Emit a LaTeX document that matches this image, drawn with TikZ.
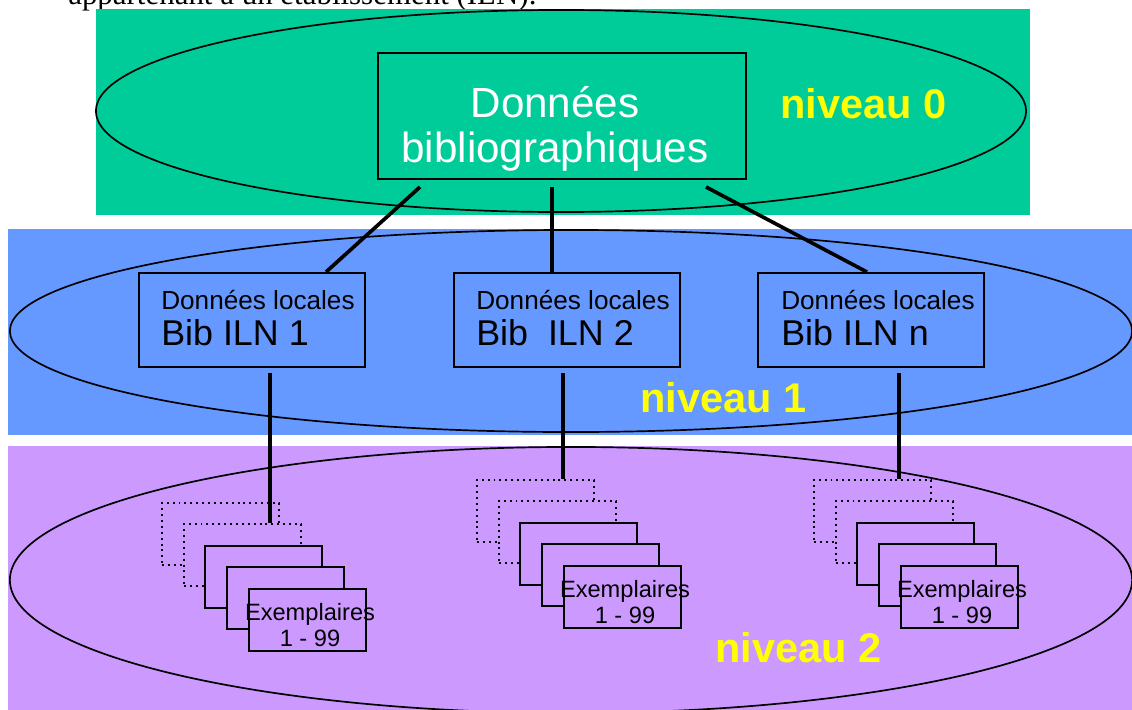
\documentclass[tikz,border=0pt]{standalone}
\usepackage{fontspec}
\setmainfont{Liberation Sans}
\newfontfamily\pagefont{Liberation Serif}
\definecolor{vert0}{HTML}{00CC99}
\definecolor{bleu1}{HTML}{6699FF}
\definecolor{mauve2}{HTML}{CC99FF}
\definecolor{jaune}{HTML}{FFFF00}
\tikzset{
  ilnbox/.style={draw, line width=1.4pt, minimum width=5.65cm, minimum height=2.35cm, inner sep=0pt},
  ilntxt/.style={anchor=west, align=left, inner sep=0pt, font=\fontsize{25.5}{25.6}\selectfont},
  exbox/.style={draw, line width=1.4pt, fill=mauve2, anchor=north west, minimum width=2.925cm, minimum height=1.55cm, inner sep=0pt},
  exdot/.style={exbox, dash pattern=on 1.4pt off 2.8pt},
  extxt/.style={align=center, inner sep=0pt, font=\fontsize{16.8}{18.5}\selectfont},
  liaison/.style={line width=2.6pt},
  niveau/.style={anchor=base west, inner sep=0pt, text=jaune, font=\fontsize{29.5}{30}\selectfont\bfseries},
}
% stack of "Exemplaires" boxes: #1 name prefix, #2 top left corner
\newcommand{\exstack}[2]{%
  \begin{scope}[shift={#2}]
  \node[exdot] (#1a) at (0,0) {};
  \node[exdot] (#1b) at (22,21) {};
  \node[exbox] (#1c) at (43,43) {};
  \node[exbox] (#1d) at (65,64) {};
  \node[exbox] (#1e) at (87,86) {};
  \node[extxt] (#1t) at (149,123) {Exemplaires\\1 - 99};
  \end{scope}}

\begin{document}
\begin{tikzpicture}[x=0.025cm, y=-0.025cm]
\useasboundingbox (0,0) rectangle (1132,710);
\fill[white] (0,0) rectangle (1132,710);
\node[anchor=base west, inner sep=0pt, font=\pagefont\fontsize{22}{24}\selectfont] (page) at (68,4) {appartenant à un établissement (ILN).};
% niveau 0
\fill[vert0] (96,9) rectangle (1030,215);
\draw[line width=1.2pt] (561,111) ellipse [x radius=11.625cm, y radius=2.525cm];
\node[draw, line width=1.4pt, minimum width=9.2cm, minimum height=3.15cm] (biblio) at (562,116) {};
\node[align=center, inner sep=0pt, text=white, font=\fontsize{30}{32}\selectfont] (bibliotxt) at (555,129) {Données\\bibliographiques};
\node[niveau] (niv0) at (780,118) {niveau 0};
% niveau 1
\fill[bleu1] (8,229) rectangle (1132,435);
\draw[line width=1.2pt] (571,331) ellipse [x radius=14.025cm, y radius=2.525cm];
\node[ilnbox] (bib1) at (252,320) {};
\node[ilnbox] (bib2) at (567,320) {};
\node[ilnbox] (bib3) at (871,320) {};
\node[ilntxt] (bib1txt) at (161,318) {{\fontsize{18.6}{20}\selectfont Données locales}\\Bib ILN 1};
\node[ilntxt] (bib2txt) at (476,318) {{\fontsize{18.6}{20}\selectfont Données locales}\\Bib~ ILN 2};
\node[ilntxt] (bib3txt) at (781,318) {{\fontsize{18.6}{20}\selectfont Données locales}\\Bib ILN n};
\node[niveau] (niv1) at (640,412) {niveau 1};
% niveau 2
\fill[mauve2] (8,446) rectangle (1132,710);
\draw[line width=1.2pt] (571,580) ellipse [x radius=14.025cm, y radius=3.325cm];
\exstack{s1}{(161,502)}
\exstack{s2}{(476,479)}
\exstack{s3}{(813,479)}
\node[niveau] (niv2) at (715,662) {niveau 2};
% liaisons
\draw[liaison] ([shift={(43,7)}]biblio.south west) -- ([shift={(74,0)}]bib1.north);
\draw[liaison] ([shift={(-10,7)}]biblio.south) -- ([shift={(-15,0)}]bib2.north);
\draw[liaison] ([shift={(-41,7)}]biblio.south east) -- ([shift={(-4,0)}]bib3.north);
\draw[liaison] ([shift={(18,5)}]bib1.south) -- ([shift={(87,0)}]s1b.north west);
\draw[liaison] ([shift={(-4,5)}]bib2.south) -- ([shift={(87,0)}]s2a.north west);
\draw[liaison] ([shift={(28,5)}]bib3.south) -- ([shift={(86,0)}]s3a.north west);
\end{tikzpicture}
\end{document}
